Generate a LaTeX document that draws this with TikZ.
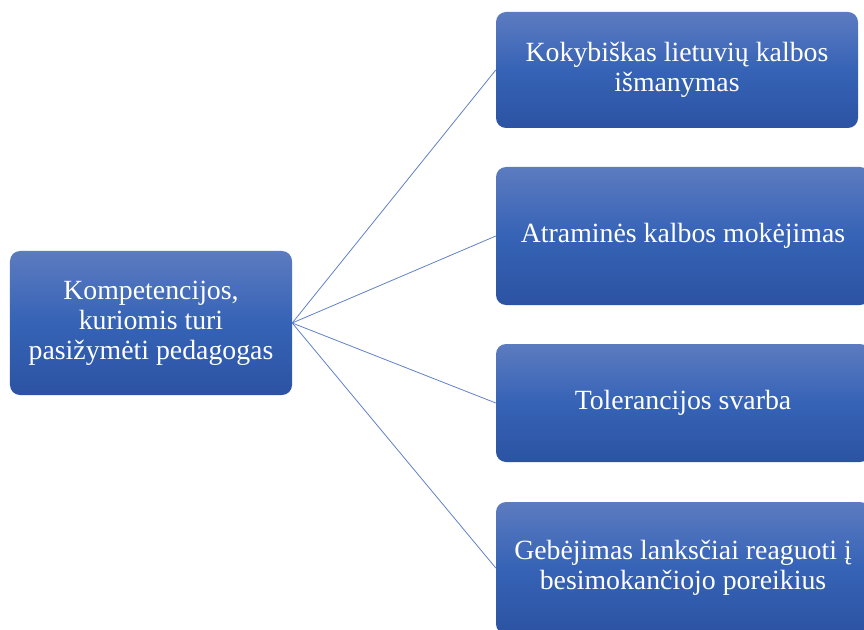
\documentclass[tikz,border=0pt]{standalone}
\usepackage{fontspec}
\setmainfont{Liberation Serif}
\definecolor{boxtop}{RGB}{92,123,192}
\definecolor{boxmid}{RGB}{54,99,182}
\definecolor{boxbot}{RGB}{44,83,163}
\definecolor{linkblue}{RGB}{96,128,200}
\begin{document}
\begin{tikzpicture}[x=1bp,y=-1bp,
  box/.style={rectangle, rounded corners=10bp, top color=boxtop, bottom color=boxbot, middle color=boxmid,
    text=white, align=center, inner sep=0pt,
    font=\fontsize{27.8bp}{30bp}\selectfont},
  link/.style={draw=linkblue, line width=0.8bp}]
\useasboundingbox (0,0) rectangle (864,630);
\clip (0,0) rectangle (864,630);
\node[box, minimum width=282bp, minimum height=144bp] (c) at (151,323) {Kompetencijos,\\kuriomis turi\\pasižymėti pedagogas};
\node[box, minimum width=362bp, minimum height=116bp] (b1) at (677,70) {Kokybiškas lietuvių kalbos\\išmanymas};
\node[box, minimum width=374bp, minimum height=138bp] (b2) at (683,236) {Atraminės kalbos mokėjimas};
\node[box, minimum width=374bp, minimum height=118bp] (b3) at (683,403) {Tolerancijos svarba};
\node[box, minimum width=374bp, minimum height=132bp] (b4) at (683,568) {Gebėjimas lanksčiai reaguoti į\\besimokančiojo poreikius};
\draw[link] (c.east) -- (b1.west);
\draw[link] (c.east) -- (b2.west);
\draw[link] (c.east) -- (b3.west);
\draw[link] (c.east) -- (b4.west);
\end{tikzpicture}
\end{document}
